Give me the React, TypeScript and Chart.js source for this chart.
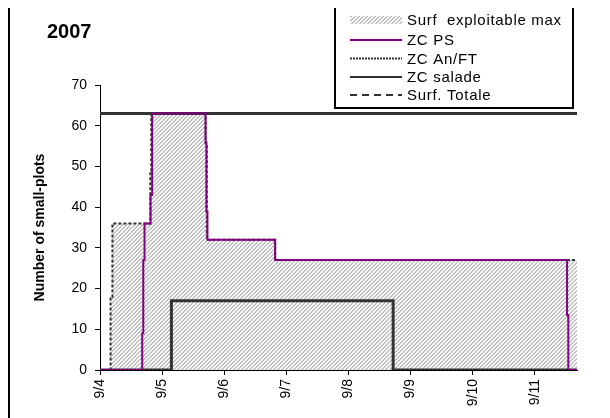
import React, { useEffect, useRef } from 'react';
import { Chart, registerables } from 'chart.js';

Chart.register(...registerables);

const chartTitle = '2007';
const yAxisTitle = 'Number of small-plots';
const xTickValues = [0, 1, 2, 3, 4, 5, 6, 7];
const xTickLabels = ['9/4', '9/5', '9/6', '9/7', '9/8', '9/9', '9/10', '9/11'];
const xMax = 7.68;
const yMin = 0;
const yMax = 70;
const yStep = 10;
const seriesNames = ['Surf  exploitable max', 'ZC PS', 'ZC An/FT', 'ZC salade', 'Surf. Totale'];

// [day offset from 9/4, number of small-plots]
const surfMax: [number, number][] = [
  [0, 0], [0.17, 0], [0.17, 18], [0.2, 18], [0.2, 36], [0.81, 36], [0.81, 49], [0.825, 49],
  [0.825, 63], [1.7, 63], [1.7, 55], [1.72, 55], [1.72, 32], [2.82, 32], [2.82, 27], [7.68, 27],
];
const zcPS: [number, number][] = [
  [0, 0], [0.68, 0], [0.68, 9], [0.697, 9], [0.697, 27], [0.717, 27], [0.717, 36], [0.814, 36],
  [0.814, 43], [0.84, 43], [0.84, 63], [1.7, 63], [1.7, 56], [1.713, 56], [1.713, 39], [1.73, 39],
  [1.73, 32], [2.82, 32], [2.82, 27], [7.52, 27], [7.52, 13.5], [7.54, 13.5], [7.54, 0], [7.68, 0],
];
const zcAnFT: [number, number][] = [
  [0, 0], [0.17, 0], [0.17, 18], [0.2, 18], [0.2, 36], [0.81, 36], [0.81, 49], [0.825, 49],
  [0.825, 63], [1.7, 63], [1.7, 55], [1.72, 55], [1.72, 32], [2.82, 32], [2.82, 27], [7.68, 27],
];
const zcSalade: [number, number][] = [
  [0, 0], [1.15, 0], [1.15, 17], [4.72, 17], [4.72, 0], [7.68, 0],
];
const surfTotale: [number, number][] = [
  [0, 63], [7.68, 63],
];

const FONT = "'Liberation Sans', Arial, sans-serif";
const toPts = (a: [number, number][]) => a.map(([x, y]) => ({ x, y }));

export default function App() {
  const ref = useRef<HTMLCanvasElement | null>(null);

  useEffect(() => {
    document.documentElement.style.overflow = 'hidden';
    document.body.style.overflow = 'hidden';
    const canvas = ref.current;
    if (!canvas) return;

    // hatch pattern
    const tile = document.createElement('canvas');
    tile.width = 4;
    tile.height = 4;
    const tctx = tile.getContext('2d')!;
    const img = tctx.createImageData(4, 4);
    for (let y = 0; y < 4; y++) {
      for (let x = 0; x < 4; x++) {
        const i = (y * 4 + x) * 4;
        const gray = (x + y) % 4 < 2;
        const v = gray ? 192 : 255;
        img.data[i] = v;
        img.data[i + 1] = v;
        img.data[i + 2] = v;
        img.data[i + 3] = 255;
      }
    }
    tctx.putImageData(img, 0, 0);
    const ctx0 = canvas.getContext('2d')!;
    const hatch = ctx0.createPattern(tile, 'repeat')!;

    const decor = {
      id: 'decor',
      afterDraw(chart: any) {
        const ctx: CanvasRenderingContext2D = chart.ctx;
        ctx.save();
        ctx.fillStyle = '#000';
        ctx.textBaseline = 'middle';
        ctx.textAlign = 'left';
        ctx.font = `bold 20px ${FONT}`;
        ctx.fillText(chartTitle, 37, 24);

        ctx.save();
        ctx.translate(30, (chart.chartArea.top + chart.chartArea.bottom) / 2);
        ctx.rotate(-Math.PI / 2);
        ctx.textAlign = 'center';
        ctx.font = `bold 14px ${FONT}`;
        ctx.fillText(yAxisTitle, 0, 0);
        ctx.restore();

        // legend box
        ctx.fillStyle = '#fff';
        ctx.fillRect(324, -1, 239, 101);
        ctx.strokeStyle = '#000';
        ctx.lineWidth = 2;
        ctx.strokeRect(325, -1, 238, 101);

        const rows = [12, 32, 50.5, 69, 87];
        const x0 = 340;
        const x1 = 392;
        rows.forEach((ry, i) => {
          ctx.save();
          if (i === 0) {
            ctx.fillStyle = hatch;
            ctx.fillRect(x0, ry - 4, x1 - x0, 8);
          } else {
            ctx.beginPath();
            ctx.moveTo(x0, ry);
            ctx.lineTo(x1, ry);
            ctx.lineWidth = 2;
            if (i === 1) {
              ctx.strokeStyle = '#800080';
            } else if (i === 2) {
              ctx.strokeStyle = '#333';
              ctx.setLineDash([2, 1]);
            } else if (i === 3) {
              ctx.strokeStyle = '#333';
            } else {
              ctx.strokeStyle = '#333';
              ctx.setLineDash([7, 5]);
            }
            ctx.stroke();
          }
          ctx.restore();
          ctx.fillStyle = '#000';
          ctx.font = `15px ${FONT}`;
          (ctx as any).letterSpacing = '0.7px';
          ctx.textBaseline = 'middle';
          ctx.fillText(seriesNames[i], 397, ry + 1);
          (ctx as any).letterSpacing = '0px';
        });
        ctx.restore();
      },
    };

    const line = (data: [number, number][], color: string, width: number, extra: any = {}) => ({
      data: toPts(data),
      borderColor: color,
      borderWidth: width,
      pointRadius: 0,
      tension: 0,
      fill: false,
      clip: 0,
      ...extra,
    });

    const chart = new Chart(canvas, {
      type: 'line',
      data: {
        datasets: [
          { label: seriesNames[1], ...line(zcPS, '#800080', 2) },
          { label: seriesNames[2], ...line(zcAnFT, '#333333', 2, { borderDash: [3, 2] }) },
          { label: seriesNames[3], ...line(zcSalade, '#333333', 3) },
          { label: seriesNames[4], ...line(surfTotale, '#333333', 3) },
          {
            label: seriesNames[0],
            ...line(surfMax, 'rgba(0,0,0,0)', 0),
            fill: 'origin',
            backgroundColor: hatch,
          },
        ],
      },
      options: {
        responsive: false,
        animation: false,
        layout: { padding: { left: 0, top: 77, right: 33, bottom: 0 } },
        plugins: {
          legend: { display: false },
          tooltip: { enabled: false },
          title: { display: false },
        },
        scales: {
          x: {
            type: 'linear',
            min: 0,
            max: xMax,
            afterBuildTicks: (scale: any) => {
              scale.ticks = xTickValues.map((v) => ({ value: v }));
            },
            afterFit: (scale: any) => {
              scale.height = 48;
            },
            ticks: {
              autoSkip: false,
              minRotation: 90,
              maxRotation: 90,
              padding: 4,
              color: '#000',
              font: { family: FONT, size: 14 },
              callback: (v: any) => xTickLabels[xTickValues.indexOf(Number(v))] ?? '',
            },
            grid: { display: true, drawOnChartArea: false, drawTicks: true, tickLength: 5, color: '#000' },
            border: { display: true, color: '#000', width: 1 },
          },
          y: {
            type: 'linear',
            min: yMin,
            max: yMax,
            afterFit: (scale: any) => {
              scale.width = 90;
            },
            ticks: {
              stepSize: yStep,
              padding: 8,
              color: '#000',
              font: { family: FONT, size: 14 },
            },
            grid: { display: true, drawOnChartArea: false, drawTicks: true, tickLength: 5, color: '#000' },
            border: { display: true, color: '#000', width: 1 },
          },
        },
      },
      plugins: [decor],
    } as any);

    return () => chart.destroy();
  }, []);

  return (
    <div
      style={{
        position: 'relative',
        marginTop: -2,
        width: 600,
        height: 420,
        borderTop: '2px solid #000',
        borderLeft: '2px solid #000',
      }}
    >
      <canvas ref={ref} width={600} height={410} style={{ position: 'absolute', left: 0, top: 0, display: 'block' }} />
    </div>
  );
}
